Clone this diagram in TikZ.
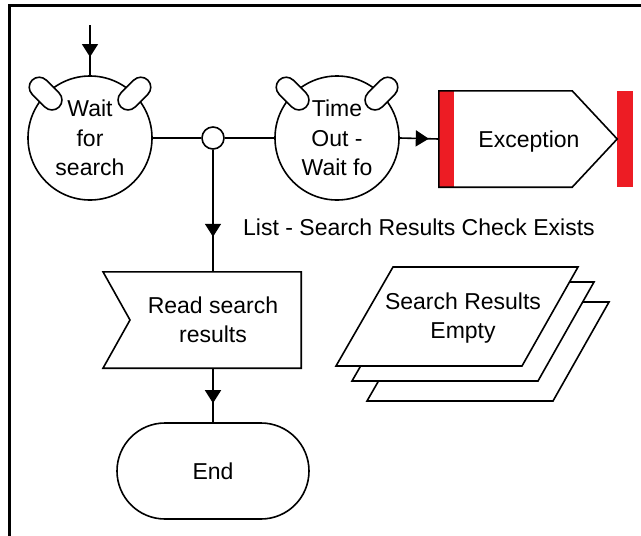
\documentclass[tikz,border=0pt]{standalone}
\usepackage{fontspec}
\setmainfont{Liberation Sans}
\usetikzlibrary{arrows.meta,decorations.markings,shapes.misc}
\definecolor{exred}{RGB}{237,28,36}
\tikzset{
  lw/.style={line width=1.6pt},
  circ/.style={circle, draw, lw, fill=white, minimum size=124pt, inner sep=0pt, align=center},
  ear/.style={rounded rectangle, draw, lw, fill=white, minimum width=38pt, minimum height=20pt, inner sep=0pt},
  conn/.style={lw},
  midarrow/.style={postaction={decorate}, decoration={markings, mark=at position #1 with {\arrow{Triangle[width=16pt,length=13pt]}}}},
  shapeline/.style={draw, lw, fill=white, line join=miter},
}
\begin{document}
\begin{tikzpicture}[x=1pt, y=-1pt, font=\fontsize{23}{29.5}\selectfont]
\useasboundingbox (0,0) rectangle (641,536);
% frame
\draw[line width=2.8pt] (9.7,540) -- (9.7,5.5) -- (645,5.5);

% wait circle
\node[circ] (wait) at (90,138) {Wait\\for\\search};
\node[ear, rotate=-45] (waitel) at (wait.135) {};
\node[ear, rotate=45] (waiter) at (wait.45) {};

% time out circle
\node[circ] (to) at (337,138) {Time\\Out -\\Wait fo};
\node[ear, rotate=-45] (toel) at (to.135) {};
\node[ear, rotate=45] (toer) at (to.45) {};

% junction
\node[circle, draw, lw, fill=white, minimum size=22pt, inner sep=0pt] (j) at (213,138) {};

% exception
\node[minimum width=178pt, minimum height=96pt, inner sep=0pt] (exc) at (528,139) {};
\node[anchor=base, inner sep=0pt] (exctxt) at (529,147) {Exception};
\fill[exred] (exc.north west) rectangle ([xshift=15pt]exc.south west);
\fill[exred] (exc.north east) rectangle ([xshift=16pt]exc.south east);
\draw[lw, line join=miter] (exc.north west) -- ([xshift=-45pt]exc.north east) -- (exc.east) -- ([xshift=-45pt]exc.south east) -- (exc.south west) -- cycle;

% read search results
\node[minimum width=176pt, minimum height=96pt, inner sep=0pt, align=center] (read) at (213,320) {Read search\\results};
\draw[lw, line join=miter] ([xshift=-110pt]read.north) -- (read.north east) -- (read.south east) -- ([xshift=-110pt]read.south) -- ([xshift=-83pt]read.center) -- cycle;

% end
\node[rounded rectangle, draw, lw, minimum width=192pt, minimum height=96pt, inner sep=0pt] (end) at (213,471) {End};

% stacked documents
\foreach \dx/\dy in {31/35,16/15,0/0}
  \draw[shapeline, shift={(\dx,\dy)}] (393,267) -- (578,267) -- (522,366) -- (336,366) -- cycle;
\node[align=center, inner sep=0pt] (sre) at (463,318) {Search Results\\Empty};

% label
\node[anchor=base west, inner sep=0pt] (lbl) at (243,235) {List - Search Results Check Exists};

% connectors
\coordinate (topin) at (90,25);
\draw[conn, midarrow=32pt] (topin) -- (wait.north);
\draw[conn] (wait.east) -- (j.west);
\draw[conn] (j.east) -- (to.west);
\draw[conn, midarrow=29pt] (to.east) -- (exc.west);
\draw[conn, midarrow=87pt] (j.south) -- (read.north);
\draw[conn, midarrow=35pt] (read.south) -- (end.north);
\end{tikzpicture}
\end{document}
